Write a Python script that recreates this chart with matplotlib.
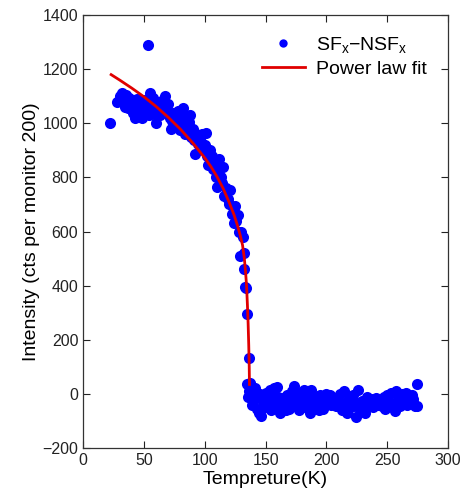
import matplotlib
matplotlib.use("Agg")
import matplotlib.pyplot as plt

plt.rcParams['font.family'] = ['Liberation Sans', 'DejaVu Sans']
plt.rcParams['mathtext.fontset'] = 'custom'
plt.rcParams['mathtext.rm'] = 'Liberation Sans'
plt.rcParams['mathtext.it'] = 'Liberation Sans'

# measured points, ordered state (below Tc)
T_low = [22, 28, 30, 32, 33, 34, 35, 36, 37, 38, 39, 40, 41, 42, 43, 44, 45, 46, 47, 48,
         49, 50, 51, 52, 53, 54, 55, 56, 57, 58, 59, 60, 61, 62, 63, 64, 65, 66, 67, 68,
         69, 70, 71, 72, 73, 74, 75, 76, 77, 78, 79, 80, 81, 82, 83, 84, 85, 86, 87, 88,
         89, 90, 91, 92, 93, 94, 95, 96, 97, 98, 99, 100, 101, 102, 103, 104, 105, 106, 107, 108,
         109, 110, 111, 112, 113, 114, 115, 116, 117, 118, 119, 120, 121, 122, 123, 124, 125, 126, 127, 128,
         129, 130, 131, 132, 132.5, 133, 133.5, 134.5, 136, 137.3, 134.5]
I_low = [1000, 1077, 1100, 1112, 1090, 1060, 1105, 1075, 1055, 1095, 1070, 1085, 1040, 1065, 1020, 1090, 1050, 1075, 1030, 1020,
         1060, 1085, 1040, 1070, 1290, 1030, 1112, 1060, 1095, 1040, 1075, 1000, 1050, 1080, 1030, 1065, 1045, 1085, 1100, 1060,
         1040, 1070, 1020, 980, 1010, 1040, 1000, 1025, 990, 1045, 1005, 975, 1010, 1055, 1035, 960, 995, 975, 1005, 1030,
         950, 980, 940, 885, 960, 925, 945, 910, 930, 960, 900, 920, 965, 880, 845, 900, 860, 880, 830, 855,
         800, 765, 825, 870, 800, 780, 840, 730, 760, 750, 720, 700, 755, 665, 690, 630, 695, 640, 660, 600,
         510, 600, 580, 460, 520, 395, 390, 297, 134, 42, 36]

# paramagnetic state (above Tc)
T_high = [135.5, 136.5, 137.5, 138.5, 139.5, 140.5, 141.5, 142.5, 143.5, 144.5, 145.5, 146.5, 147.5, 148.5,
          149.5, 150.5, 151.5, 152.5, 153.5, 154.5, 155.5, 156.5, 157.5, 158.5, 159.5, 160.5, 161.5, 162.5,
          163.5, 164.5, 165.5, 166.5, 167.5, 168.5, 169.5, 170.5, 171.5, 172.5, 173.5, 174.5, 175.5, 176.5,
          177.5, 178.5, 179.5, 180.5, 181.5, 182.5, 183.5, 184.5, 185.5, 186.5, 187.5, 188.5, 189.5, 190.5,
          191.5, 192.5, 193.5, 194.5, 195.5, 196.5, 197.5, 198.5, 199.5, 200.5, 201.5, 202.5, 203.5, 205,
          206.5, 208, 209.5, 211, 212.5, 214, 215.5, 217, 218.5, 220, 221.5, 223, 224.5, 226,
          227.5, 229, 230.5, 232, 233.5, 235, 236.5, 238, 239.5, 241, 242.5, 244, 245.5, 247,
          248.5, 250, 251.5, 253, 254.5, 256, 257.5, 259, 260.5, 262, 263.5, 265, 266.5, 268,
          269.5, 271, 272.5, 274, 274.5, 270, 265.5]
I_high = [-10, 10, 35, -40, 5, -20, 20, -55, -10, -70, 0, -80, -30, -15,
          -50, 5, -35, -20, 15, -60, -5, 20, -40, -25, 25, -10, -70, -30,
          -50, -15, -40, -60, -5, -30, -55, -20, 10, -40, 30, -10, -45, -25,
          -60, 5, -35, -15, 15, -50, -30, 10, -20, -70, 15, -40, -55, -10,
          -30, -20, -60, -5, -45, -25, -55, -10, 0, -35, -20, -5, -40, -30,
          -15, -45, -25, 0, -60, 10, -35, -70, -20, -50, -5, -30, -85, 15,
          -60, -25, -45, -70, -10, -35, -20, -50, -30, -15, -40, -25, -45, -10,
          -55, -5, -30, 5, -40, -65, 10, -20, -45, 0, -25, -15, -40, -30,
          -10, -20, -45, 35, -45, -5, 5]

# power law fit curve
T_fit = [23, 30, 40, 50, 60, 70, 80, 90, 100, 105, 110, 115, 120, 124, 127, 129,
         131, 132.5, 133.5, 134.3, 135, 135.6, 136.1, 136.5, 136.7]
I_fit = [1180, 1160, 1130, 1098, 1062, 1022, 978, 928, 872, 840, 803, 760, 708, 662, 620, 588,
         550, 500, 450, 400, 330, 260, 180, 100, 35]

fig = plt.figure(figsize=(4.62, 4.97), dpi=100)
ax = fig.add_axes([0.18, 0.0986, 0.79, 0.871])

ax.plot(T_low + T_high, I_low + I_high, 'o', color='#0000ff', markersize=8,
        markeredgewidth=0, label=r'SF$_\mathregular{x}$$-$NSF$_\mathregular{x}$', zorder=2)
ax.plot(T_fit, I_fit, '-', color='#e00000', linewidth=2.0, label='Power law fit', zorder=3)

ax.set_xlim(0, 300)
ax.set_ylim(-200, 1400)
ax.set_xticks([0, 50, 100, 150, 200, 250, 300])
ax.set_yticks([-200, 0, 200, 400, 600, 800, 1000, 1200, 1400])
ax.tick_params(direction='in', top=True, right=True, length=5, width=0.8,
               labelsize=11.5, colors='#222222')
for s in ax.spines.values():
    s.set_linewidth(0.9)
    s.set_color('#333333')

ax.set_xlabel('Tempreture(K)', fontsize=14, labelpad=2)
ax.set_ylabel('Intensity (cts per monitor 200)', fontsize=14, labelpad=2)

leg = ax.legend(loc='upper right', bbox_to_anchor=(0.98, 0.985), frameon=False,
                fontsize=14, handlelength=2.2, handletextpad=0.6,
                borderpad=0.2, labelspacing=0.25, markerscale=0.75)

fig.savefig('out.png', dpi=100)
